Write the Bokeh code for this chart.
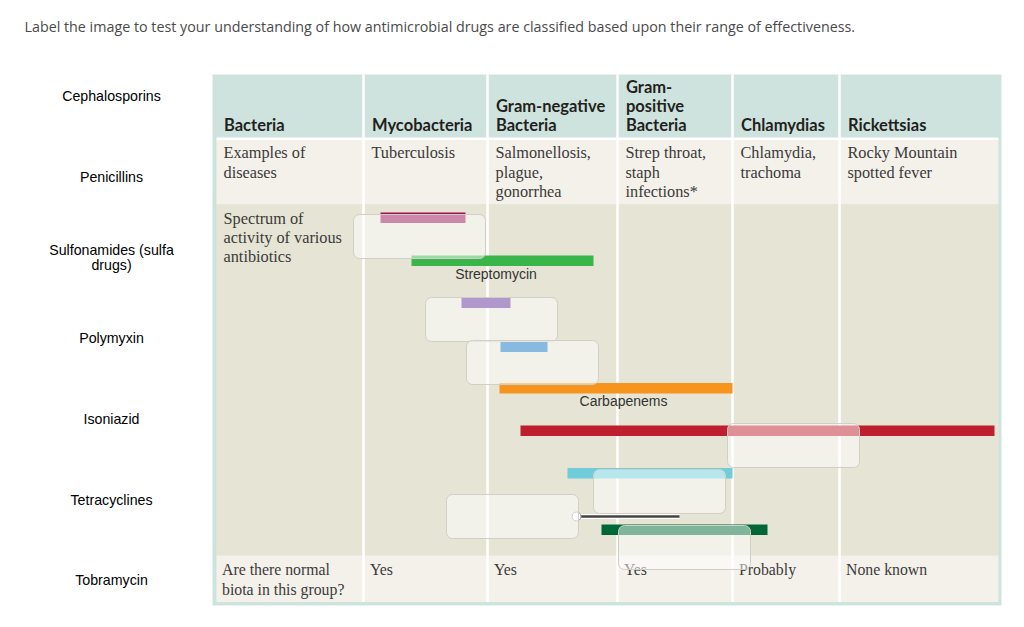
from bokeh.plotting import figure
from bokeh.models import Range1d
from bokeh.embed import file_html
from bokeh.resources import INLINE
from bokeh.core.properties import value

# ---------------- data ----------------
title_text = ("Label the image to test your understanding of how antimicrobial drugs "
              "are classified based upon their range of effectiveness.")

drug_names = ["Cephalosporins", "Penicillins", "Sulfonamides (sulfa\ndrugs)", "Polymyxin",
              "Isoniazid", "Tetracyclines", "Tobramycin"]

group_headers = ["Bacteria", "Mycobacteria", "Gram-negative\nBacteria",
                 "Gram-\npositive\nBacteria", "Chlamydias", "Rickettsias"]
disease_examples = ["Examples of\ndiseases", "Tuberculosis", "Salmonellosis,\nplague,\ngonorrhea",
                    "Strep throat,\nstaph\ninfections*", "Chlamydia,\ntrachoma",
                    "Rocky Mountain\nspotted fever"]
spectrum_label = "Spectrum of\nactivity of various\nantibiotics"
normal_biota = ["Are there normal\nbiota in this group?", "Yes", "Yes", "Yes", "Probably",
                "None known"]

# spectrum bars: extent along the organism-group axis
bar_start = [380, 411, 461, 500, 499, 520, 567, 601]
bar_end = [465, 593, 510, 547, 732, 994, 732, 767]
bar_names = ["", "Streptomycin", "", "", "Carbapenems", "", "", ""]
bar_colors = ["#991151", "#39b54a", "#633199", "#1173c3", "#f7941d", "#be1e2d", "#6fccd8",
              "#006837"]

# ---------------- layout ----------------
W, H = 1008, 611
p = figure(width=W, height=H, output_backend="svg", toolbar_location=None,
           x_range=Range1d(0, W), y_range=Range1d(H, 0),
           x_axis_type=None, y_axis_type=None, min_border=0,
           background_fill_color="white", border_fill_color="white")
p.outline_line_color = None
p.grid.visible = False

TEAL = "#cfe3de"
CREAM = "#f4f1ea"
KHAKI = "#e6e5d5"

col_left = [216, 364, 488, 618, 733, 840]
separators = [363, 487, 617, 732, 839]
tab_l, tab_r, tab_t, tab_b = 212, 1001, 74, 605
in_l, in_r = 216, 998

# table frame and rows
p.quad(left=[tab_l], right=[tab_r], top=[tab_t], bottom=[tab_b], fill_color=TEAL, line_color=None)
p.quad(left=[in_l], right=[in_r], top=[137], bottom=[139.5], fill_color="white", line_color=None)
p.quad(left=[in_l, in_l, in_l], right=[in_r] * 3, top=[139.5, 204, 555],
       bottom=[204, 555, 601.5], fill_color=[CREAM, KHAKI, CREAM], line_color=None)
p.segment(x0=separators, x1=separators, y0=[tab_t] * 5, y1=[601.5] * 5,
          line_color="white", line_width=2.5)

# title
p.text(x=[24], y=[26], text=[title_text], text_font=value("Open Sans"),
       text_font_size="14.3px", text_color="#4a4a4a", text_baseline="middle")

# drug labels on the left
for i, name in enumerate(drug_names):
    lines = name.split("\n")
    y0 = 95.5 + i * 80.7 - (len(lines) - 1) * 7.5
    p.text(x=[111] * len(lines), y=[y0 + k * 15 for k in range(len(lines))], text=lines,
           text_font=value("Liberation Sans"), text_font_size="14.2px", text_color="#000000",
           text_align="center", text_baseline="middle")

# header (bottom-aligned)
for x, h in zip(col_left, group_headers):
    lines = h.split("\n")
    n = len(lines)
    p.text(x=[x + 7.5] * n, y=[124.5 - (n - 1 - k) * 19 for k in range(n)], text=lines,
           text_font=value("Lato"), text_font_style="bold", text_font_size="16.5px",
           text_color="#231f20", text_baseline="middle")

SERIF = value("Liberation Serif")


def serif_block(x, y_first, txt, pitch=19.3, size="16.3px"):
    lines = txt.split("\n")
    p.text(x=[x] * len(lines), y=[y_first + k * pitch for k in range(len(lines))], text=lines,
           text_font=SERIF, text_font_size=size, text_color="#3a3a3a", text_baseline="middle")


for x, d in zip(col_left, disease_examples):
    serif_block(x + 7, 152.3, d)
serif_block(col_left[0] + 7, 218.3, spectrum_label, pitch=19)
for x, b in zip(col_left, normal_biota):
    serif_block(x + 5.5, 569.3, b, size="15.8px")

# spectrum bars
bar_top = [212, 255, 297, 341, 382.5, 425, 467.5, 524]
bar_h = 10.5
label_shift = [0, -6.5, 0, 0, 7.5, 0, 0, 0]
p.quad(left=bar_start, right=bar_end, top=bar_top, bottom=[t + bar_h for t in bar_top],
       fill_color=bar_colors, line_color=None)
for s, e, t, nm, dx in zip(bar_start, bar_end, bar_top, bar_names, label_shift):
    if nm:
        p.text(x=[(s + e) / 2 + dx], y=[t + 18], text=[nm], text_font=value("Liberation Sans"),
               text_font_size="14px", text_color="#333333", text_align="center",
               text_baseline="middle")

# leader line of a placed label
p.segment(x0=[576], x1=[679], y0=[516], y1=[516], line_color="white", line_width=5)
p.segment(x0=[576], x1=[679], y0=[516], y1=[516], line_color="#444444", line_width=2.5)
p.scatter(x=[576], y=[516], size=9, marker="circle", fill_color="white",
          line_color="#9a9a9a", line_width=1)

# empty drop-target boxes
box_left = [353, 425, 466, 727, 593, 446, 618]
box_top = [214, 297, 340, 423, 469, 494, 525]
box_w, box_h = 132, 44
kw = dict(left=box_left, right=[b + box_w for b in box_left], top=box_top,
          bottom=[t + box_h for t in box_top], fill_color="white", fill_alpha=0.5,
          line_color="#cfcfc6", line_width=1)
try:
    p.quad(border_radius=6, **kw)
except Exception:
    p.quad(**kw)

open("out.html", "w").write(file_html(p, INLINE))
